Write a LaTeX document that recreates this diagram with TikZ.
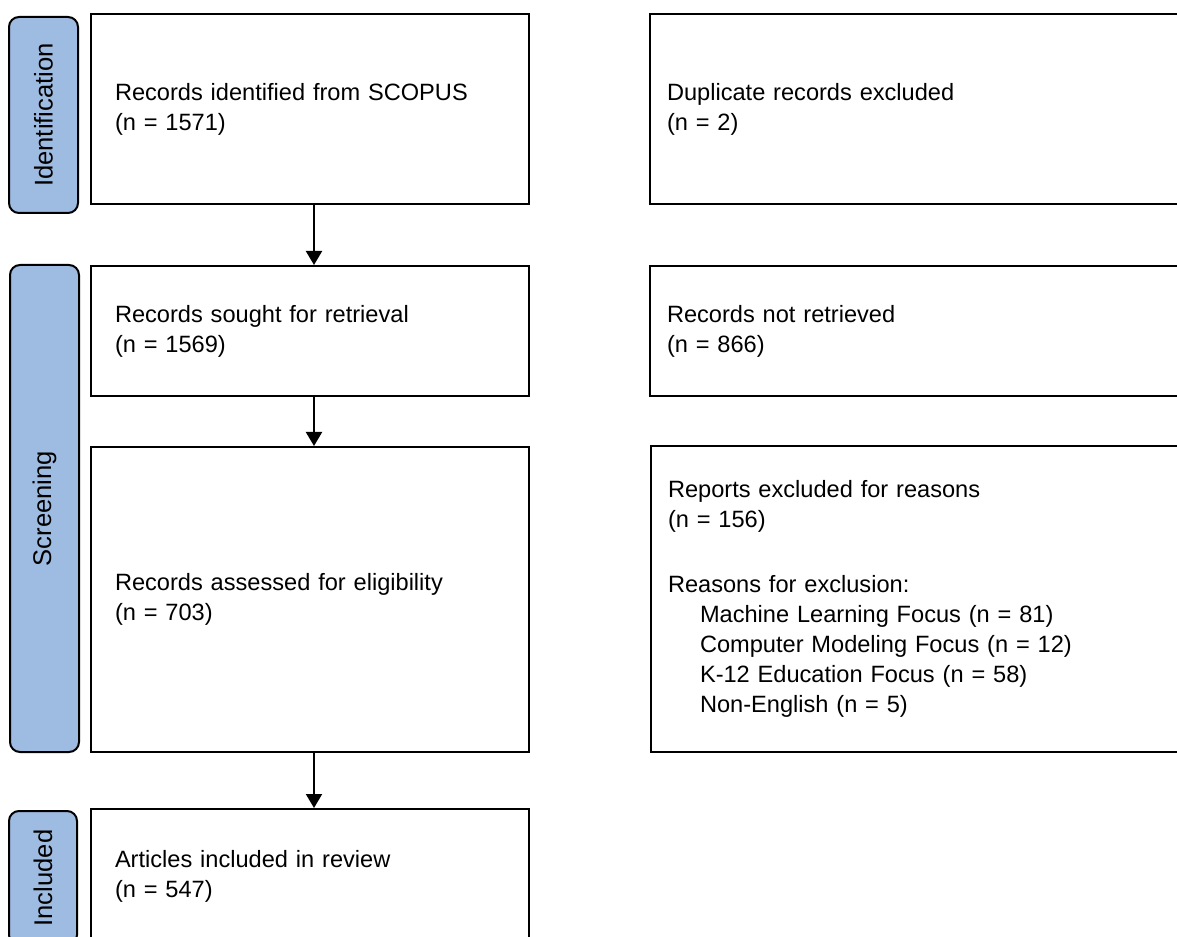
\documentclass[tikz,border=0pt]{standalone}
\usepackage{fontspec}
\setmainfont{Liberation Sans}
\usetikzlibrary{arrows.meta}

\definecolor{stageblue}{RGB}{158,187,226}

\tikzset{
  stage/.style={draw, line width=1.5pt, rounded corners=7.5pt, fill=stageblue, rotate=90, inner sep=0pt, font=\fontsize{19.2}{23}\selectfont},
  box/.style={draw, line width=1.5pt, align=left, inner ysep=0pt, font=\fontsize{17.7}{22.5}\selectfont},
  mainbox/.style={box, inner xsep=18pt, text width=292.5pt},
  sidebox/.style={box, inner xsep=12.75pt, text width=379.5pt},
  flow/.style={line width=1.5pt, -{Triangle[width=12pt,length=10.5pt]}}
}

\begin{document}
\begin{tikzpicture}[x=0.75pt,y=0.75pt,yscale=-1,xscale=1]
  \useasboundingbox (0,0) rectangle (1177,937);
  \clip (0,0) rectangle (1177,937);

  % Stage bars
  \node [stage, minimum width=147pt, minimum height=51.75pt] (idbar) at (43.5,115) {Identification};
  \node [stage, minimum width=365.25pt, minimum height=51.75pt] (scrbar) at (44.5,508.5) {Screening};
  \node [stage, minimum width=100.5pt, minimum height=51pt] (incbar) at (43,878) {Included};

  % Main column
  \node [mainbox, minimum height=142.5pt] (ident) at (310,109) {Records identified from SCOPUS\\(n = 1571)};
  \node [mainbox, minimum height=97.5pt] (sought) at (310,331) {Records sought for retrieval\\(n = 1569)};
  \node [mainbox, minimum height=228.75pt] (assess) at (310,599.5) {Records assessed for eligibility\\(n = 703)};
  \node [mainbox, minimum height=100.5pt] (incl) at (310,876) {Articles included in review\\(n = 547)};

  % Side column
  \node [sidebox, minimum height=142.5pt] (dup) at (920,109) {Duplicate records excluded\\(n = 2)};
  \node [sidebox, minimum height=97.5pt] (notret) at (920,331) {Records not retrieved\\(n = 866)};
  \node [sidebox, minimum height=229.5pt] (reports) at (921,599) {Reports excluded for reasons\\(n = 156)\\[26.25pt]
    Reasons for exclusion:\\
    \hspace*{24pt}Machine Learning Focus (n = 81)\\
    \hspace*{24pt}Computer Modeling Focus (n = 12)\\
    \hspace*{24pt}K-12 Education Focus (n = 58)\\
    \hspace*{24pt}Non-English (n = 5)};

  % Arrows
  \draw [flow] ([xshift=3pt]ident.south) -- ([xshift=3pt]sought.north);
  \draw [flow] ([xshift=3pt]sought.south) -- ([xshift=3pt]assess.north);
  \draw [flow] ([xshift=3pt]assess.south) -- ([xshift=3pt]incl.north);
\end{tikzpicture}
\end{document}
